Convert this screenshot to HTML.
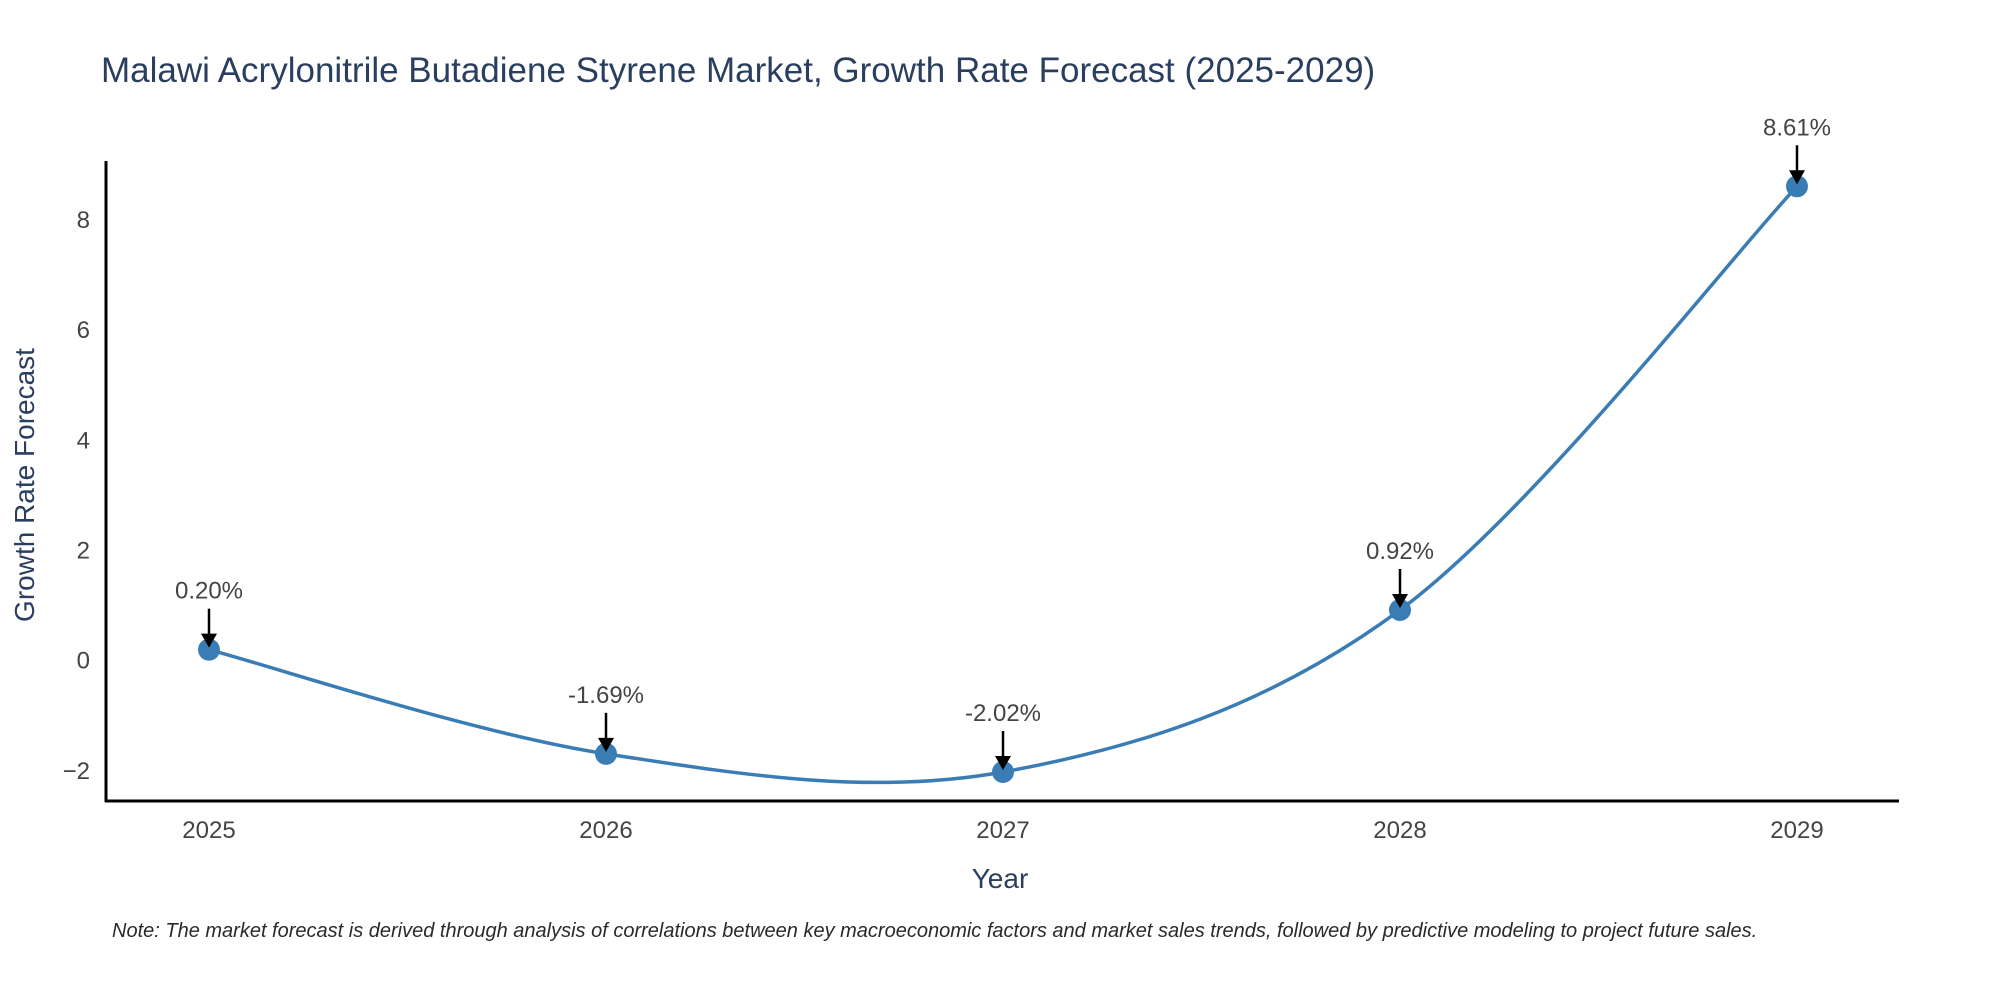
<!DOCTYPE html>
<html><head><meta charset="utf-8"><style>
body{margin:0;background:#fff;}
svg{display:block;font-family:"Liberation Sans",sans-serif;}
</style></head><body>
<svg id="chart" width="2000" height="1000" viewBox="0 0 2000 1000">
<text x="101" y="82" font-size="35" fill="#2a3f5f">Malawi Acrylonitrile Butadiene Styrene Market, Growth Rate Forecast (2025-2029)</text>
<g id="axes"></g>
<g id="series"></g>
<text x="1000" y="888" font-size="28" fill="#2a3f5f" text-anchor="middle">Year</text>
<text transform="translate(34,485) rotate(-90)" font-size="28" fill="#2a3f5f" text-anchor="middle">Growth Rate Forecast</text>
<text x="112" y="937" font-size="20" font-style="italic" fill="#2a2a2a">Note: The market forecast is derived through analysis of correlations between key macroeconomic factors and market sales trends, followed by predictive modeling to project future sales.</text>
</svg>
<script>
const years = [2025, 2026, 2027, 2028, 2029];
const growth = [0.20, -1.69, -2.02, 0.92, 8.61];
const yTicks = [-2, 0, 2, 4, 6, 8];
const NS = "http://www.w3.org/2000/svg";
const x0 = 209, xStep = 397;
function xs(i){ return x0 + i * xStep; }
function ys(v){ return 660.7 - v * 55.1; }
function mk(tag, attrs, parent){ const e = document.createElementNS(NS, tag); for (const k in attrs) e.setAttribute(k, attrs[k]); parent.appendChild(e); return e; }
const axes = document.getElementById('axes'), ser = document.getElementById('series');
const yl = mk('line', {x1:106,y1:161,x2:106,y2:802,stroke:'#000','stroke-width':3}, axes);


const xl = mk('line', {x1:105,y1:801,x2:1899,y2:801,stroke:'#000','stroke-width':3}, axes);


yTicks.forEach(t => {
  const e = mk('text', {x:90,y:ys(t)+8,'font-size':24,fill:'#444','text-anchor':'end'}, axes);
  e.textContent = t < 0 ? '\u2212' + Math.abs(t) : String(t);
  
  
});
years.forEach((y, i) => {
  const e = mk('text', {x:xs(i),y:838,'font-size':24,fill:'#444','text-anchor':'middle'}, axes);
  e.textContent = y;
  
  
});
const pts = growth.map((v, i) => [xs(i), ys(v)]);
let d = 'M' + pts[0][0] + ',' + pts[0][1];
for (let i = 0; i < pts.length - 1; i++) {
  const p0 = pts[Math.max(0, i-1)], p1 = pts[i], p2 = pts[i+1], p3 = pts[Math.min(pts.length-1, i+2)];
  const c1 = [p1[0] + (p2[0]-p0[0])/6, p1[1] + (p2[1]-p0[1])/6];
  const c2 = [p2[0] - (p3[0]-p1[0])/6, p2[1] - (p3[1]-p1[1])/6];
  d += ' C' + c1 + ' ' + c2 + ' ' + p2;
}
const line = mk('path', {d:d,fill:'none',stroke:'#3a7db5','stroke-width':3.5}, ser);


growth.forEach((v, i) => {
  const [px, py] = pts[i];
  const c = mk('circle', {cx:px,cy:py,r:11,fill:'#3a7db5'}, ser);
  
  
  const a = mk('line', {x1:px,y1:py-41,x2:px,y2:py-12,stroke:'#000','stroke-width':2.5}, ser);
  
  
  const h = mk('polygon', {points:(px-8)+','+(py-16)+' '+(px+8)+','+(py-16)+' '+px+','+(py-2),fill:'#000'}, ser);
  
  
  const t = mk('text', {x:px,y:py-51,'font-size':24,fill:'#444','text-anchor':'middle'}, ser);
  t.textContent = v.toFixed(2) + '%';
  
  
});
</script>
</body></html>
